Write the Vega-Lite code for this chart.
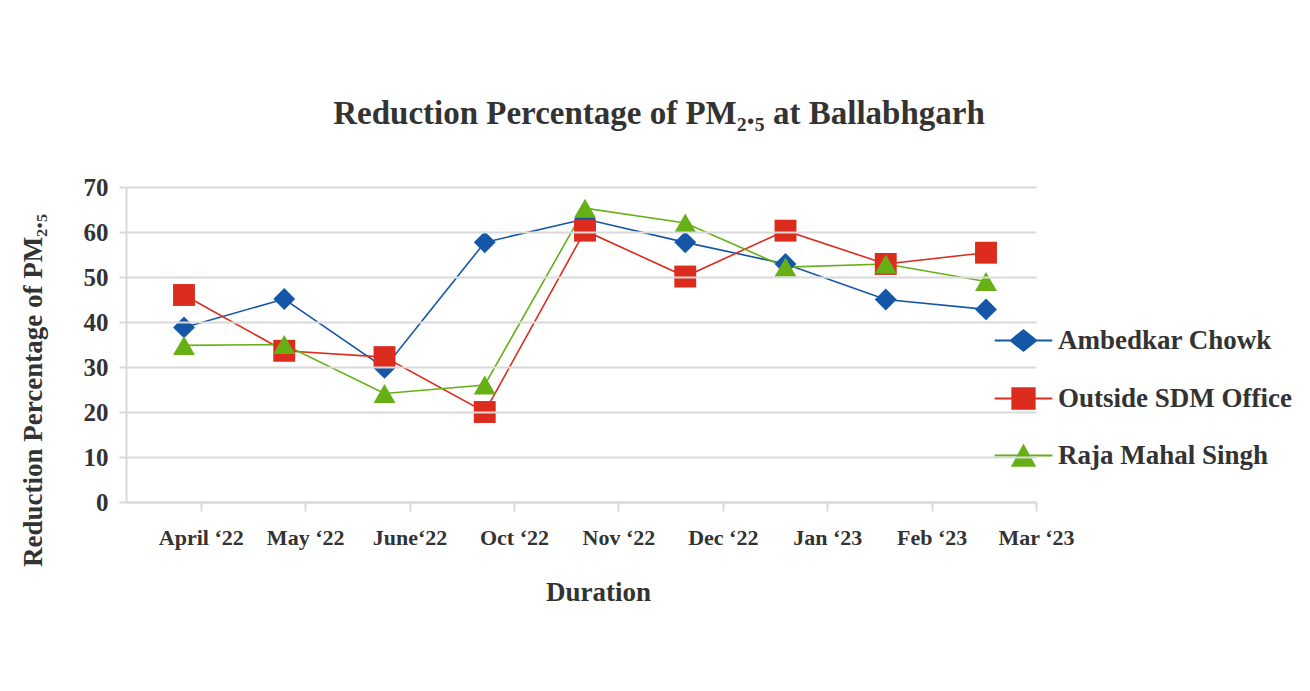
{
  "$schema": "https://vega.github.io/schema/vega-lite/v6.json",
  "width": 910,
  "height": 315,
  "autosize": {"type": "none"},
  "padding": {"left": 126, "top": 187, "right": 274, "bottom": 189},
  "background": "white",
  "config": {
    "font": "Liberation Serif",
    "view": {"stroke": null},
    "axis": {"labelFont": "Liberation Serif", "titleFont": "Liberation Serif", "labelFontWeight": "bold", "titleFontWeight": "bold", "labelColor": "#333333", "titleColor": "#333333"},
    "legend": {"orient": "none", "legendX": 884, "legendY": 140, "padding": 0, "symbolSize": 576, "symbolStrokeWidth": 2.2, "symbolOpacity": 1, "labelFontSize": 27, "labelFont": "Liberation Serif", "labelFontWeight": "bold", "labelColor": "#333333", "labelOffset": 21, "rowPadding": 27, "labelLimit": 400}
  },
  "title": {
    "text": "Reduction Percentage of PM₂.₅ at Ballabhgarh",
    "font": "Liberation Serif",
    "fontSize": 33,
    "fontWeight": "bold",
    "color": "#333333",
    "anchor": "middle",
    "baseline": "alphabetic",
    "offset": 18,
    "dx": 78
  },
  "data": {
    "values": [
      {"month": "April ‘22", "series": "Ambedkar Chowk", "value": 38.8},
      {"month": "May ‘22", "series": "Ambedkar Chowk", "value": 45.1},
      {"month": "June‘22", "series": "Ambedkar Chowk", "value": 29.8},
      {"month": "Oct ‘22", "series": "Ambedkar Chowk", "value": 57.7},
      {"month": "Nov ‘22", "series": "Ambedkar Chowk", "value": 62.9},
      {"month": "Dec ‘22", "series": "Ambedkar Chowk", "value": 57.7},
      {"month": "Jan ‘23", "series": "Ambedkar Chowk", "value": 52.9},
      {"month": "Feb ‘23", "series": "Ambedkar Chowk", "value": 45.0},
      {"month": "Mar ‘23", "series": "Ambedkar Chowk", "value": 42.8},
      {"month": "April ‘22", "series": "Outside SDM Office", "value": 46.0},
      {"month": "May ‘22", "series": "Outside SDM Office", "value": 33.6},
      {"month": "June‘22", "series": "Outside SDM Office", "value": 32.2},
      {"month": "Oct ‘22", "series": "Outside SDM Office", "value": 20.0},
      {"month": "Nov ‘22", "series": "Outside SDM Office", "value": 60.3},
      {"month": "Dec ‘22", "series": "Outside SDM Office", "value": 50.1},
      {"month": "Jan ‘23", "series": "Outside SDM Office", "value": 60.3},
      {"month": "Feb ‘23", "series": "Outside SDM Office", "value": 52.9},
      {"month": "Mar ‘23", "series": "Outside SDM Office", "value": 55.4},
      {"month": "April ‘22", "series": "Raja Mahal Singh", "value": 34.8},
      {"month": "May ‘22", "series": "Raja Mahal Singh", "value": 35.0},
      {"month": "June‘22", "series": "Raja Mahal Singh", "value": 24.1},
      {"month": "Oct ‘22", "series": "Raja Mahal Singh", "value": 26.0},
      {"month": "Nov ‘22", "series": "Raja Mahal Singh", "value": 65.3},
      {"month": "Dec ‘22", "series": "Raja Mahal Singh", "value": 62.0},
      {"month": "Jan ‘23", "series": "Raja Mahal Singh", "value": 52.2},
      {"month": "Feb ‘23", "series": "Raja Mahal Singh", "value": 52.9},
      {"month": "Mar ‘23", "series": "Raja Mahal Singh", "value": 49.0}
    ]
  },
  "layer": [
    {
      "mark": {"type": "line", "strokeWidth": 1.6},
      "encoding": {
        "x": {"field": "month", "type": "nominal", "sort": null, "axis": null,
              "scale": {"type": "point", "padding": 0.5386, "align": 0.537}},
        "y": {"field": "value", "type": "quantitative",
              "scale": {"domain": [0, 70], "nice": false},
              "axis": {"values": [0, 10, 20, 30, 40, 50, 60, 70], "title": "Reduction Percentage of PM₂.₅",
                       "titleFontSize": 27, "titleX": -85, "titleY": 203, "titleBaseline": "alphabetic", "titleAngle": 270,
                       "labelFontSize": 25, "labelPadding": 11, "tickSize": 7, "tickColor": "#d9d9d9", "tickWidth": 2,
                       "domainColor": "#d9d9d9", "domainWidth": 2, "gridColor": "#d9d9d9", "gridWidth": 2, "zindex": 1}},
        "color": {"field": "series", "type": "nominal", "legend": null,
                  "scale": {"domain": ["Ambedkar Chowk", "Outside SDM Office", "Raja Mahal Singh"], "range": ["#1557a6", "#dc2c1e", "#66b016"]}}
      }
    },
    {
      "mark": {"type": "point", "filled": true, "opacity": 1, "size": 480},
      "encoding": {
        "x": {"field": "month", "type": "nominal", "sort": null, "axis": null,
              "scale": {"type": "point", "padding": 0.5386, "align": 0.537}},
        "y": {"field": "value", "type": "quantitative"},
        "color": {"field": "series", "type": "nominal", "legend": null,
                  "scale": {"domain": ["Ambedkar Chowk", "Outside SDM Office", "Raja Mahal Singh"], "range": ["#1557a6", "#dc2c1e", "#66b016"]}},
        "shape": {"field": "series", "type": "nominal", "legend": null,
                  "scale": {"domain": ["Ambedkar Chowk", "Outside SDM Office", "Raja Mahal Singh"], "range": ["diamond", "square", "triangle-up"]}}
      }
    },
    {
      "mark": {"type": "point", "filled": true, "opacity": 0},
      "encoding": {
        "x": {"field": "month", "type": "nominal", "sort": null,
              "scale": {"type": "point", "padding": 0.358, "align": 1},
              "axis": {"orient": "bottom", "labelAngle": 0, "labelFontSize": 22, "labelPadding": 16,
                       "tickSize": 9, "tickColor": "#d9d9d9", "tickWidth": 2, "domainColor": "#d9d9d9", "domainWidth": 2,
                       "grid": false, "title": "Duration", "titleFontSize": 27, "titleX": 472, "titleY": 98, "titleBaseline": "alphabetic"}},
        "color": {"field": "series", "type": "nominal", "legend": {"title": null},
                  "scale": {"domain": ["Ambedkar Chowk", "Outside SDM Office", "Raja Mahal Singh"], "range": ["#1557a6", "#dc2c1e", "#66b016"]}},
        "stroke": {"field": "series", "type": "nominal", "legend": {"title": null},
                  "scale": {"domain": ["Ambedkar Chowk", "Outside SDM Office", "Raja Mahal Singh"], "range": ["#1557a6", "#dc2c1e", "#66b016"]}},
        "shape": {"field": "series", "type": "nominal", "legend": {"title": null},
                  "scale": {"domain": ["Ambedkar Chowk", "Outside SDM Office", "Raja Mahal Singh"],
                            "range": ["M-2.4,0H2.4M-1.05,0L0,-0.85L1.05,0L0,0.85Z", "M-2.4,0H2.4M-0.92,-0.85H0.92V0.85H-0.92Z", "M-2.4,0H2.4M0,-0.8L0.9,0.85H-0.9Z"]}}
      }
    }
  ],
  "resolve": {"scale": {"x": "independent", "color": "independent", "shape": "independent", "stroke": "independent"}}
}
